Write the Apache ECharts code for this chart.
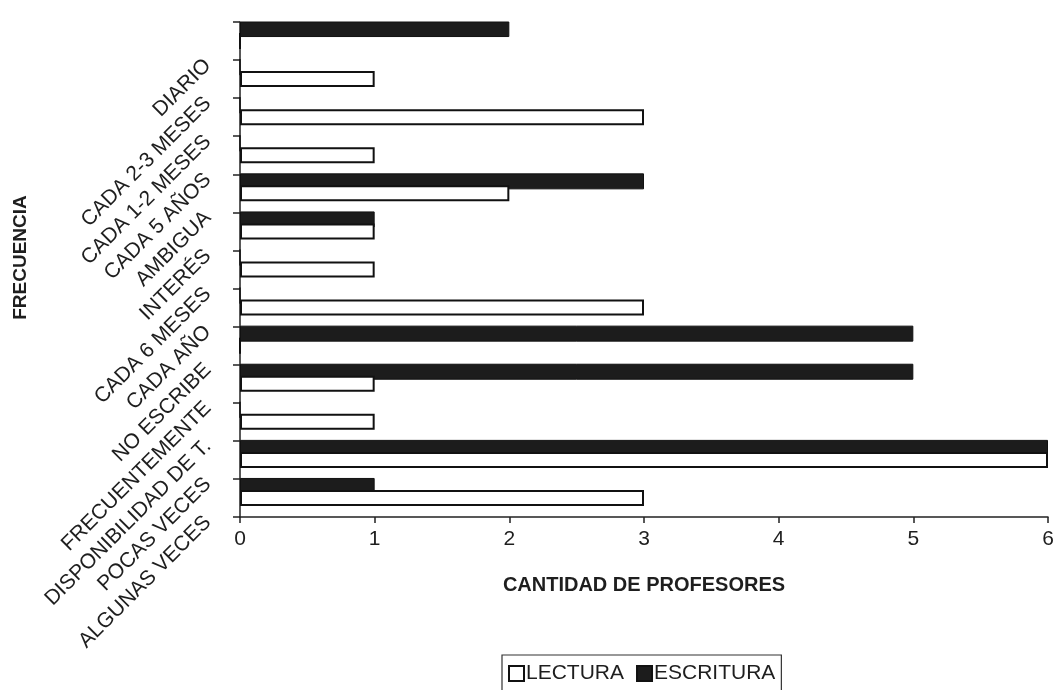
<!DOCTYPE html>
<html>
<head>
<meta charset="utf-8">
<script src="https://cdn.jsdelivr.net/npm/echarts@6/dist/echarts.min.js"></script>
<style>
html,body{margin:0;padding:0;background:#fff;}
#c{width:1058px;height:690px;}
</style>
</head>
<body>
<div id="c"></div>
<script>
// categories from bottom to top
const categories = ['ALGUNAS VECES','POCAS VECES','DISPONIBILIDAD DE T.','FRECUENTEMENTE','NO ESCRIBE','CADA AÑO','CADA 6 MESES','INTERÉS','AMBIGUA','CADA 5 AÑOS','CADA 1-2 MESES','CADA 2-3 MESES','DIARIO'];
const lectura   = [3, 6, 1, 1, 0, 3, 1, 1, 2, 1, 3, 1, 0];
const escritura = [1, 6, 0, 5, 5, 0, 0, 1, 3, 0, 0, 0, 2];
const xTicks = [0, 1, 2, 3, 4, 5, 6];

const FONT = 'Liberation Sans, Arial, sans-serif';
const TXT = '#1e1e1e';

const chart = echarts.init(document.getElementById('c'));
chart.setOption({
  animation: false,
  backgroundColor: '#fff',
  grid: { left: 240, right: 10, top: 22, bottom: 173, containLabel: false },
  xAxis: {
    type: 'value',
    min: xTicks[0], max: xTicks[xTicks.length - 1], interval: 1,
    name: 'CANTIDAD DE PROFESORES',
    nameLocation: 'middle',
    nameGap: 58,
    nameTextStyle: { fontFamily: FONT, fontSize: 20, fontWeight: 'bold', color: TXT },
    axisLine: { show: true, lineStyle: { color: '#222', width: 1.5 } },
    axisTick: { show: true, length: 6, lineStyle: { color: '#222', width: 1.5 } },
    axisLabel: { fontFamily: FONT, fontSize: 21, color: TXT, margin: 12 },
    splitLine: { show: false }
  },
  yAxis: {
    type: 'category',
    data: categories,
    name: 'FRECUENCIA',
    nameLocation: 'middle',
    nameGap: 210,
    nameRotate: 90,
    nameTextStyle: { fontFamily: FONT, fontSize: 19, fontWeight: 'bold', color: TXT, padding: [0, 0, 0, 24] },
    axisLine: { show: true, lineStyle: { color: '#222', width: 1.5 } },
    axisTick: { show: true, length: 7, alignWithLabel: false, lineStyle: { color: '#222', width: 1.5 } },
    axisLabel: { fontFamily: FONT, fontSize: 21, color: TXT, rotate: 45, margin: 11, padding: [0, 30, 0, 0], interval: 0 },
    splitLine: { show: false }
  },
  legend: {
    data: ['LECTURA', 'ESCRITURA'],
    left: 502, top: 655,
    orient: 'horizontal',
    itemWidth: 15, itemHeight: 15, itemGap: 12,
    padding: [8, 6, 10, 6],
    borderColor: '#333', borderWidth: 1.2,
    icon: 'rect',
    textStyle: { fontFamily: FONT, fontSize: 21, color: TXT, padding: [0, 0, 0, -3] }
  },
  series: [
    {
      name: 'ESCRITURA', type: 'bar', data: escritura,
      barWidth: 16, barGap: '-25%',
      itemStyle: { color: '#1c1c1c', borderColor: '#111', borderWidth: 1 }
    },
    {
      name: 'LECTURA', type: 'bar', data: lectura,
      barWidth: 16, barGap: '-25%',
      itemStyle: { color: '#ffffff', borderColor: '#111', borderWidth: 2 }
    },
    {
      name: 'spacer', type: 'bar', data: categories.map(() => null),
      barWidth: 16, barGap: '-25%', silent: true,
      itemStyle: { color: 'transparent' }
    }
  ]
});
</script>
</body>
</html>
